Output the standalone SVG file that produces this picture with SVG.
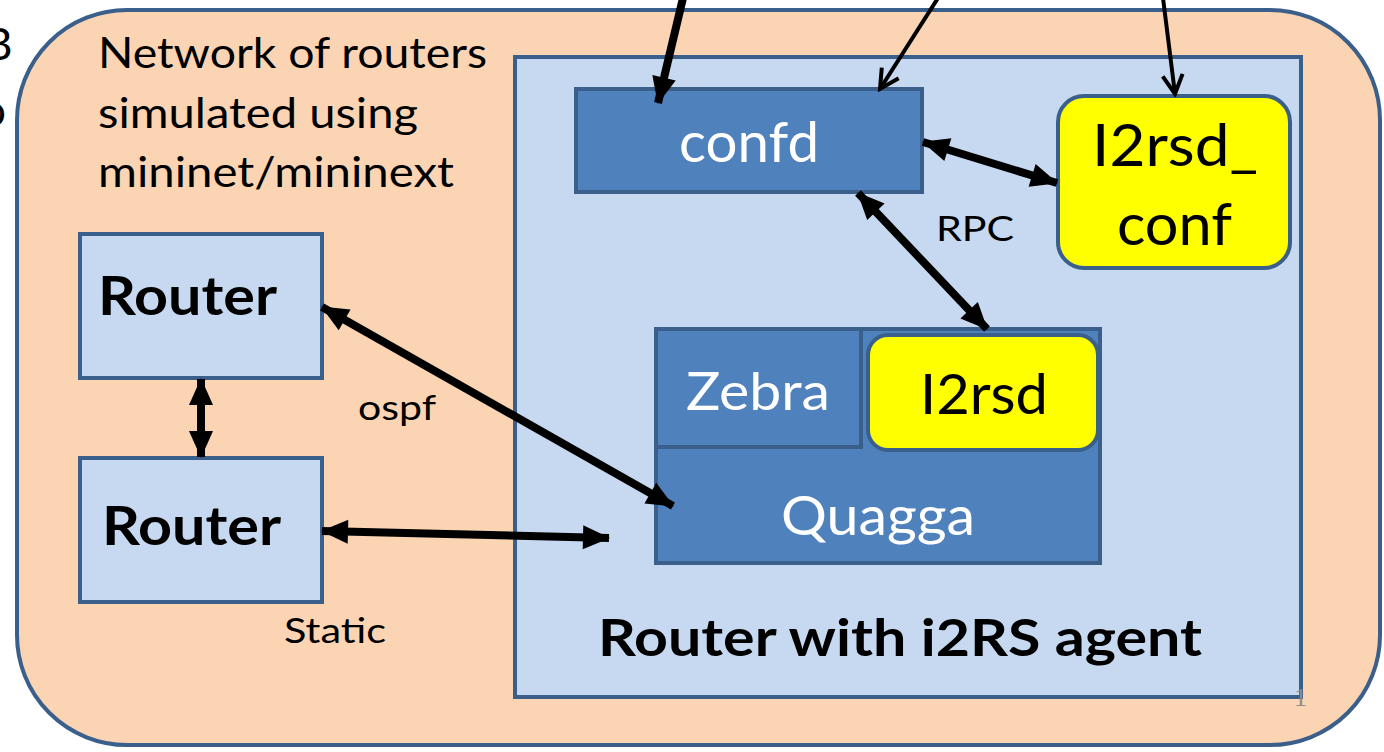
<svg xmlns="http://www.w3.org/2000/svg" width="1384" height="752" viewBox="0 0 1384 752">
<style>
.t{font-family:Lato,"Open Sans","Liberation Sans",sans-serif}
.w{fill:#ffffff}
.k{fill:#000000}
.b{font-weight:bold}
.blue{fill:#4f81bd;stroke:#3a5f8b;stroke-width:4}
.yel{fill:#ffff00;stroke:#3a5f8b;stroke-width:4}
.lb{fill:#c6d9f0;stroke:#3a5f8b;stroke-width:4}
.thick{stroke:#000;stroke-width:8;fill:none}
.thin{stroke:#000;stroke-width:4;fill:none}
</style>
<defs>
<marker id="ah" markerUnits="userSpaceOnUse" markerWidth="30" markerHeight="30" viewBox="0 0 30 30" refX="28" refY="15" orient="auto-start-reverse">
<path d="M2,3 L29,15 L2,27 Z" fill="#000"/>
</marker>
<marker id="ov" markerUnits="userSpaceOnUse" markerWidth="26" markerHeight="26" viewBox="0 0 26 26" refX="23" refY="13" orient="auto">
<path d="M4,3 L23,13 L4,23" fill="none" stroke="#000" stroke-width="4"/>
</marker>
</defs>
<rect width="1384" height="752" fill="#ffffff"/>
<text class="t k" x="-16" y="60" font-size="44">B</text>
<text class="t k" x="-19" y="126" font-size="44">o</text>
<g id="outer">
<rect x="17" y="10" width="1363" height="735" rx="110" ry="110" fill="#fbd4b4" stroke="#3a5f8b" stroke-width="4"/>
<text class="t k" font-size="43" x="98" y="68" textLength="389" lengthAdjust="spacingAndGlyphs">Network of routers</text>
<text class="t k" font-size="43" x="98" y="128" textLength="320" lengthAdjust="spacingAndGlyphs">simulated using</text>
<text class="t k" font-size="43" x="98" y="187" textLength="356" lengthAdjust="spacingAndGlyphs">mininet/mininext</text>
</g>
<g id="agent">
<rect class="lb" x="515" y="57" width="786" height="640"/>
<text class="t k b" font-size="52" x="598" y="656" textLength="604" lengthAdjust="spacingAndGlyphs">Router with i2RS agent</text>
</g>
<g id="router1">
<rect class="lb" x="80" y="234" width="242" height="144"/>
<text class="t k b" font-size="54" x="98" y="315" textLength="179" lengthAdjust="spacingAndGlyphs">Router</text>
</g>
<g id="router2">
<rect class="lb" x="80" y="458" width="242" height="144"/>
<text class="t k b" font-size="54" x="102" y="545" textLength="179" lengthAdjust="spacingAndGlyphs">Router</text>
</g>
<g id="confd">
<rect class="blue" x="576" y="89" width="346" height="103"/>
<text class="t w" font-size="56" x="679" y="162" textLength="140" lengthAdjust="spacingAndGlyphs">confd</text>
</g>
<g id="i2rsd_conf">
<rect class="yel" x="1058" y="96" width="232" height="172" rx="26" ry="26"/>
<text class="t k" font-size="58" x="1092" y="166" textLength="166" lengthAdjust="spacingAndGlyphs">I2rsd_</text>
<text class="t k" font-size="58" x="1117" y="245" textLength="115" lengthAdjust="spacingAndGlyphs">conf</text>
</g>
<g id="quagga">
<rect class="blue" x="656" y="329" width="444" height="234"/>
<text class="t w" font-size="54" x="781" y="535" textLength="194" lengthAdjust="spacingAndGlyphs">Quagga</text>
</g>
<g id="zebra">
<rect class="blue" x="656" y="329" width="205" height="118"/>
<text class="t w" font-size="52" x="686" y="410" textLength="144" lengthAdjust="spacingAndGlyphs">Zebra</text>
</g>
<g id="i2rsd">
<rect class="yel" x="868" y="335" width="230" height="115" rx="20" ry="20"/>
<text class="t k" font-size="56" x="920" y="414" textLength="128" lengthAdjust="spacingAndGlyphs">I2rsd</text>
</g>
<g id="connectors">
<line class="thick" x1="683" y1="-2" x2="658" y2="103" marker-end="url(#ah)"/>
<line class="thin" x1="938" y1="-2" x2="880" y2="89" marker-end="url(#ov)"/>
<line class="thin" x1="1163" y1="-2" x2="1175" y2="94" marker-end="url(#ov)"/>
<line class="thick" x1="923" y1="142" x2="1057" y2="183" marker-start="url(#ah)" marker-end="url(#ah)"/>
<line class="thick" x1="858" y1="193" x2="987" y2="329" marker-start="url(#ah)" marker-end="url(#ah)"/>
<line class="thick" x1="201" y1="379" x2="201" y2="457" marker-start="url(#ah)" marker-end="url(#ah)"/>
<line class="thick" x1="322" y1="307" x2="673" y2="506" marker-start="url(#ah)" marker-end="url(#ah)"/>
<line class="thick" x1="322" y1="531" x2="609" y2="538" marker-start="url(#ah)" marker-end="url(#ah)"/>
<text class="t k" font-size="34" x="936" y="241" textLength="78" lengthAdjust="spacingAndGlyphs">RPC</text>
<text class="t k" font-size="34" x="358" y="420" textLength="78" lengthAdjust="spacingAndGlyphs">ospf</text>
<text class="t k" font-size="34" x="284" y="643" textLength="102" lengthAdjust="spacingAndGlyphs">Static</text>
</g>
<text x="1294" y="706" font-family="Liberation Serif,serif" font-size="26" fill="#8c8c8c">1</text>
</svg>
